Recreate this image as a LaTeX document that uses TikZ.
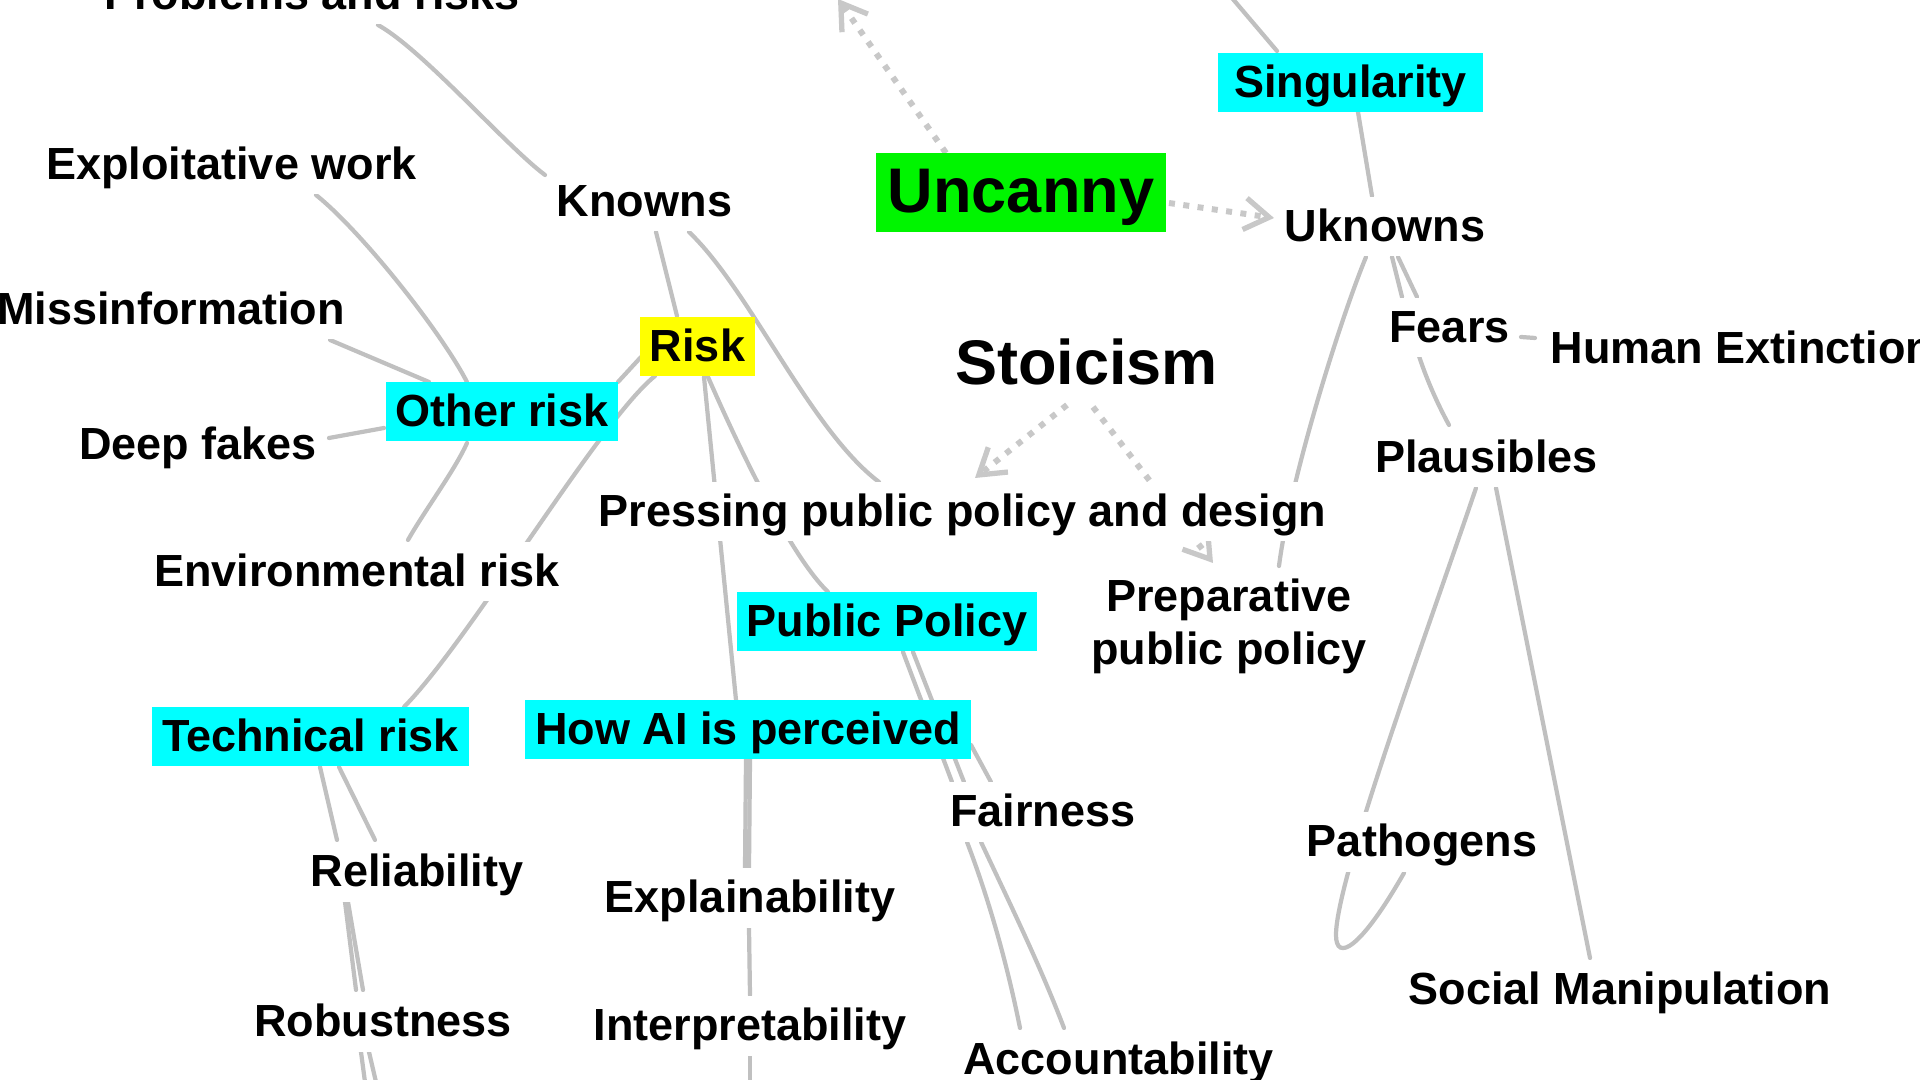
\documentclass[tikz,border=0pt]{standalone}
\usepackage{fontspec}
\setmainfont{Liberation Sans}
\usetikzlibrary{arrows.meta,backgrounds}
\definecolor{cyanbox}{RGB}{0,255,255}
\definecolor{greenbox}{RGB}{0,245,0}
\definecolor{yellowbox}{RGB}{255,255,0}
\definecolor{edgegray}{RGB}{192,192,192}
\definecolor{dotgray}{RGB}{200,200,200}
\begin{document}
\begin{tikzpicture}[x=0.01cm,y=-0.01cm,
  lblbase/.style={font=\fontsize{12.8}{15.08}\selectfont\bfseries, inner ysep=0pt, inner xsep=0.4mm},
  lbl/.style={lblbase, text height=4.5mm, text depth=1.45mm, anchor=base, fill=white},
  big/.style={font=\fontsize{17.93}{21}\selectfont\bfseries, inner ysep=0pt, inner xsep=1.2mm, text height=6mm, text depth=1.9mm, anchor=base},
  box/.style={lbl, inner xsep=1mm},
  cbox/.style={box, fill=cyanbox},
  edge/.style={draw=edgegray, line width=1.2pt, line cap=round},
  dotarrow/.style={draw=dotgray, line width=1.7pt, dash pattern=on 1.7pt off 2.4pt, -{Straight Barb[length=7pt,width=9pt,line width=1.5pt]}},
]
\useasboundingbox (0,0) rectangle (1920,1080);

% nodes
\node[lbl] (prob) at (312,10) {Problems and risks};
\node[lbl] (expl) at (231.5,180) {Exploitative work};
\node[lbl] (knowns) at (644.5,217) {Knowns};
\node[lbl] (miss) at (171,325) {Missinformation};
\node[cbox] (other) at (502,427) {Other risk};
\node[lbl] (deep) at (198,460) {Deep fakes};
\node[lbl] (env) at (357,587) {Environmental risk};
\node[cbox] (tech) at (310.5,752) {Technical risk};
\node[lbl] (rel) at (417,887) {Reliability};
\node[lbl] (rob) at (383,1037) {Robustness};
\node[box, fill=yellowbox] (risk) at (697.5,362) {Risk};
\node[big, fill=greenbox] (unc) at (1021,213) {Uncanny};
\node[cbox, inner xsep=1.6mm] (sing) at (1350.5,98) {Singularity};
\node[lbl] (ukn) at (1385,242) {Uknowns};
\node[lbl] (fears) at (1449.5,343) {Fears};
\node[lbl, anchor=base west] (hum) at (1546,364) {Human Extinction};
\node[big] (stoi) at (1086.5,385) {Stoicism};
\node[lbl] (plaus) at (1486.5,473) {Plausibles};
\node[lbl] (press) at (962.5,527) {Pressing public policy and design};
\node[cbox] (pp) at (887,637) {Public Policy};
\node[lblbase, align=center, anchor=north] (prep) at (1229,578) {Preparative\\public policy};
\node[cbox] (howai) at (748,745) {How AI is perceived};
\node[lbl] (fair) at (1043,827) {Fairness};
\node[lbl] (expla) at (750,913) {Explainability};
\node[lbl] (interp) at (750,1041) {Interpretability};
\node[lbl] (acc) at (1118.5,1075) {Accountability};
\node[lbl] (path) at (1422,857) {Pathogens};
\node[lbl] (social) at (1620,1005) {Social Manipulation};

\coordinate (topA) at (838,-1);
\coordinate (topB) at (1232,-2);
\coordinate (botA) at (365,1082);
\coordinate (botB) at (376,1082);
\coordinate (botC) at (750,1082);

\begin{scope}[on background layer]
\fill[white] (0,0) rectangle (1920,1080);
% left cluster
\draw[edge] ([shift={(66,15)}]prob.base) .. controls +(45,25) and +(-40,-30) .. ([shift={(-99.5,-42)}]knowns.base);
\draw[edge] ([shift={(84.5,15)}]expl.base) .. controls +(44,35) and +(-27,-52) .. ([shift={(-35,-45)}]other.base);
\draw[edge] ([shift={(159,15)}]miss.base) -- ([shift={(-73,-45)}]other.base);
\draw[edge] ([shift={(131,-22)}]deep.base) -- ([shift={(-118,1)}]other.base);
\draw[edge] ([shift={(-56.5,-5)}]risk.base) -- ([shift={(116,-45)}]other.base);
\draw[edge] ([shift={(-42.5,14)}]risk.base) .. controls +(-55,44) and +(66,-67) .. ([shift={(93.5,-45)}]tech.base);
\draw[edge] ([shift={(-35,16)}]other.base) .. controls +(-12,27) and +(17,-30) .. ([shift={(51,-47)}]env.base);
\draw[edge] ([shift={(9.5,15)}]tech.base) -- ([shift={(-80,-47)}]rel.base);
\draw[edge] ([shift={(28.5,15)}]tech.base) -- ([shift={(-42,-47)}]rel.base);
\draw[edge] ([shift={(-72,15)}]rel.base) -- ([shift={(-27,-47)}]rob.base);
\draw[edge] ([shift={(-69,15)}]rel.base) -- ([shift={(-20,-47)}]rob.base);
\draw[edge] ([shift={(-22,15)}]rob.base) -- (botA);
\draw[edge] ([shift={(-14,15)}]rob.base) -- (botB);
% middle cluster
\draw[edge] ([shift={(11.5,15)}]knowns.base) -- ([shift={(-20.5,-46)}]risk.base);
\draw[edge] ([shift={(44.5,15)}]knowns.base) .. controls +(61,58) and +(-69,-52) .. ([shift={(-83.5,-45)}]press.base);
\draw[edge] ([shift={(6.5,15)}]risk.base) -- ([shift={(-12,-45)}]howai.base);
\draw[edge] ([shift={(10.5,15)}]risk.base) .. controls +(32,73) and +(-38,-37) .. ([shift={(-59,-45)}]pp.base);
\draw[edge] ([shift={(-2,14)}]howai.base) -- ([shift={(-5,-45)}]expla.base);
\draw[edge] ([shift={(2,14)}]howai.base) -- ([shift={(-1,-45)}]expla.base);
\draw[edge] ([shift={(-1,15)}]expla.base) -- ([shift={(0,-46)}]interp.base);
\draw[edge] ([shift={(0,15)}]interp.base) -- (botC);
\draw[edge] ([shift={(16,15)}]pp.base) -- ([shift={(-91,-45)}]fair.base);
\draw[edge] ([shift={(26,15)}]pp.base) -- ([shift={(-79,-45)}]fair.base);
\draw[edge] ([shift={(223,0)}]howai.base) -- ([shift={(-52,-45)}]fair.base);
\draw[edge] ([shift={(-76,15)}]fair.base) .. controls +(23,60) and +(-12,-60) .. ([shift={(-98.5,-47)}]acc.base);
\draw[edge] ([shift={(-62,15)}]fair.base) .. controls +(29,62) and +(-24,-63) .. ([shift={(-54.5,-47)}]acc.base);
% right cluster
\draw[edge] (topB) -- ([shift={(-73.5,-47)}]sing.base);
\draw[edge] ([shift={(7.5,14)}]sing.base) -- ([shift={(-13,-46)}]ukn.base);
\draw[edge] ([shift={(-19,15)}]ukn.base) .. controls +(-26,63) and +(11,-86) .. ([shift={(50,-12)}]prep.north);
\draw[edge] ([shift={(7,15)}]ukn.base) -- ([shift={(-47.5,-46)}]fears.base);
\draw[edge] ([shift={(13,15)}]ukn.base) -- ([shift={(-32.5,-46)}]fears.base);
\draw[edge] ([shift={(71.5,-6)}]fears.base) -- ([shift={(-11,-26)}]hum.base west);
\draw[edge] ([shift={(-31.5,10)}]fears.base) .. controls +(8,25) and +(-12,-22) .. ([shift={(-37.5,-48)}]plaus.base);
\draw[edge] ([shift={(-10.5,15)}]plaus.base) .. controls +(-51,150) and +(0,-55) .. ([shift={(-86,78)}]path.base) .. controls +(0,27) and +(-44,77) .. ([shift={(-18,16)}]path.base);
\draw[edge] ([shift={(9.5,15)}]plaus.base) -- ([shift={(-30,-47)}]social.base);
% dotted arrows
\draw[dotarrow] ([shift={(-19.5,20)}]stoi.base) -- ([shift={(12.5,-49)}]press.base);
\draw[dotarrow] ([shift={(6.5,22)}]stoi.base) -- ([shift={(-16,-15)}]prep.north);
\draw[dotarrow] ([shift={(-75,-60)}]unc.base) -- (topA);
\draw[dotarrow] ([shift={(148,-10)}]unc.base) -- ([shift={(-111,-24)}]ukn.base);
\end{scope}
\end{tikzpicture}
\end{document}
